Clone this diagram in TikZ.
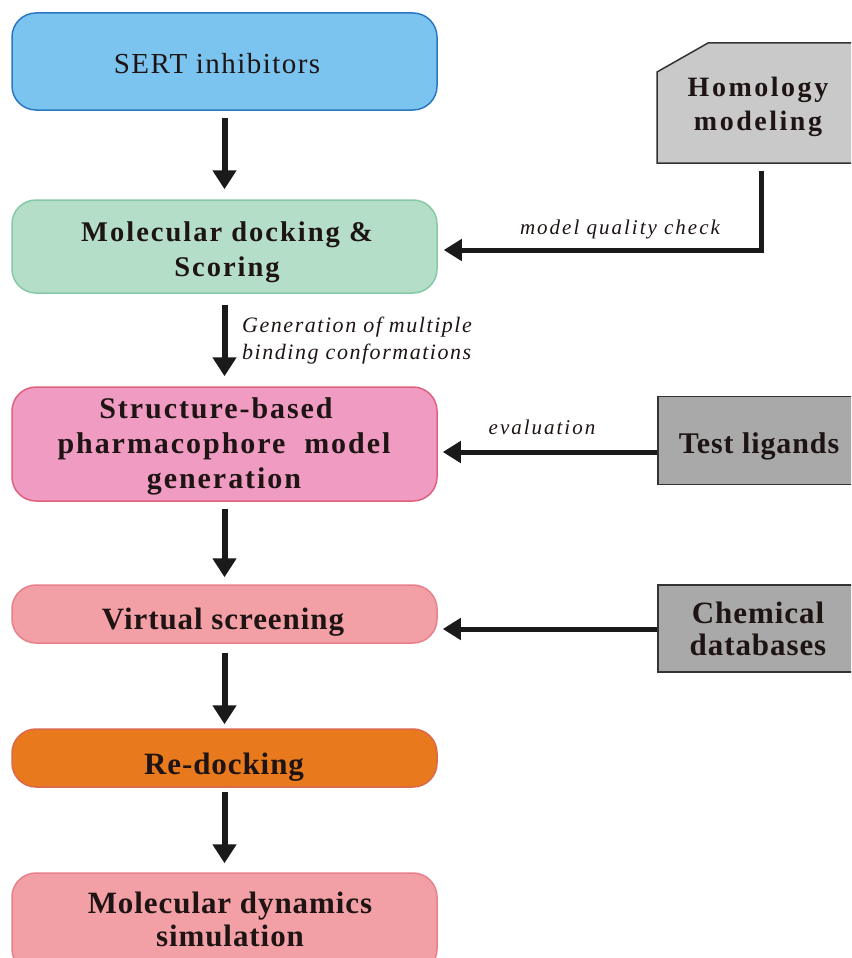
\documentclass[tikz,border=0pt]{standalone}
\usepackage{fontspec}
\setmainfont{Liberation Serif}
\newfontfamily\sertf[LetterSpace=5]{Liberation Serif}
\newfontfamily\dockf[LetterSpace=7]{Liberation Serif}
\newfontfamily\strf[LetterSpace=6.5]{Liberation Serif}
\newfontfamily\lowf[LetterSpace=3]{Liberation Serif}
\newfontfamily\homf[LetterSpace=9]{Liberation Serif}
\newfontfamily\genf[LetterSpace=7]{Liberation Serif}
\newfontfamily\mqcf[LetterSpace=9.5]{Liberation Serif}
\usetikzlibrary{arrows.meta}
\definecolor{sertfill}{HTML}{7AC4EF}
\definecolor{sertdraw}{HTML}{2B78C2}
\definecolor{dockfill}{HTML}{B4DEC8}
\definecolor{dockdraw}{HTML}{86C9A6}
\definecolor{strfill}{HTML}{F09BC1}
\definecolor{strdraw}{HTML}{E0607F}
\definecolor{vsfill}{HTML}{F2A0A6}
\definecolor{vsdraw}{HTML}{E8808C}
\definecolor{redfill}{HTML}{E8791C}
\definecolor{reddraw}{HTML}{D9694A}
\definecolor{homfill}{HTML}{C9C9C9}
\definecolor{grayfill}{HTML}{A9A9A9}
\definecolor{edgegray}{HTML}{333333}
\definecolor{arrowc}{HTML}{1A1A1A}
\definecolor{txtc}{HTML}{1E1414}
\tikzset{
  mainbox/.style={rounded corners=24pt, line width=1.5pt, minimum width=425pt, inner sep=0pt},
  sidebox/.style={draw=edgegray, line width=1.5pt, fill=grayfill, minimum width=200pt, inner sep=0pt, anchor=west},
  txt/.style={inner sep=0pt, align=center, text=txtc},
  varrow/.style={draw=arrowc, line width=6pt, -{Triangle[length=19pt,width=23pt]}},
  harrow/.style={draw=arrowc, line width=5pt, -{Triangle[length=18pt,width=21pt]}},
  lbl/.style={inner sep=0pt, align=left, text=txtc}
}
\begin{document}
\begin{tikzpicture}[x=1pt,y=-1pt]
\clip (0,0) rectangle (851,958);
\fill[white] (0,0) rectangle (851,958);
% main column boxes
\node[mainbox, draw=sertdraw, fill=sertfill, minimum height=97pt] (sert) at (224.5,61.5) {};
\node[mainbox, draw=dockdraw, fill=dockfill, minimum height=93pt] (dock) at (224.5,246.5) {};
\node[mainbox, draw=strdraw, fill=strfill, minimum height=114pt] (str) at (224.5,444) {};
\node[mainbox, draw=vsdraw, fill=vsfill, minimum height=58pt] (vs) at (224.5,614) {};
\node[mainbox, draw=reddraw, fill=redfill, minimum height=58pt] (red) at (224.5,758) {};
\node[mainbox, draw=vsdraw, fill=vsfill, minimum height=100pt] (md) at (224.5,923) {};
% main column texts
\node[txt, font=\sertf\fontsize{29}{34}\selectfont] (serttxt) at (217,63.5) {SERT inhibitors};
\node[txt, font=\dockf\bfseries\fontsize{28.5}{35}\selectfont] (docktxt) at (227,252.5) {Molecular docking \&\\Scoring};
\node[txt, font=\strf\bfseries\fontsize{30}{35}\selectfont] (strtxt) at (224,446.5) {\hspace*{-16pt}Structure-based\\pharmacophore\ \ model\\generation};
\node[txt, font=\lowf\bfseries\fontsize{31}{36}\selectfont] (vstxt) at (223,622) {Virtual screening};
\node[txt, font=\lowf\bfseries\fontsize{31}{36}\selectfont] (redtxt) at (224,767) {Re-docking};
\node[txt, font=\lowf\bfseries\fontsize{31}{33}\selectfont] (mdtxt) at (230,919) {Molecular dynamics\\simulation};
% side boxes
\draw[draw=edgegray, line width=1.5pt, fill=homfill] (657,72) -- (708,43) -- (860,43) -- (860,163) -- (657,163) -- cycle;
\node[txt, font=\homf\bfseries\fontsize{28}{34}\selectfont] (hom) at (758,107) {Homology\\modeling};
\coordinate (homout) at (761,171);
\coordinate (homturn) at (761,250);
\node[sidebox, minimum height=88pt] (test) at (657,440.5) {};
\node[txt, font=\lowf\bfseries\fontsize{30}{36}\selectfont] (testtxt) at (759,446) {Test ligands};
\node[sidebox, minimum height=87pt] (chem) at (657,628.5) {};
\node[txt, font=\lowf\bfseries\fontsize{31}{32}\selectfont] (chemtxt) at (758,629) {Chemical\\databases};
% vertical arrows
\draw[varrow, shorten <=7pt, shorten >=10pt] (sert.south) -- (dock.north);
\draw[varrow, shorten <=11pt, shorten >=10pt] (dock.south) -- (str.north);
\draw[varrow, shorten <=7pt, shorten >=7pt] (str.south) -- (vs.north);
\draw[varrow, shorten <=9pt, shorten >=4pt] (vs.south) -- (red.north);
\draw[varrow, shorten <=4pt, shorten >=9pt] (red.south) -- (md.north);
% horizontal arrows
\draw[harrow, shorten >=6pt] (homout) -- (homturn) -- (homturn -| dock.east);
\draw[harrow, shorten >=5pt] (test.west |- 0,452) -- (str.east |- 0,452);
\draw[harrow, shorten >=5pt] (chem.west |- 0,629) -- (vs.east |- 0,629);
% labels
\node[lbl, font=\mqcf\itshape\fontsize{21}{25}\selectfont] (mqc) at (620,229) {model quality check};
\node[lbl, font=\genf\itshape\fontsize{22}{27}\selectfont, anchor=west] (gen) at (242,341) {Generation of multiple\\binding conformations};
\node[lbl, font=\mqcf\itshape\fontsize{21}{25}\selectfont] (eval) at (542,427) {evaluation};
\end{tikzpicture}
\end{document}
